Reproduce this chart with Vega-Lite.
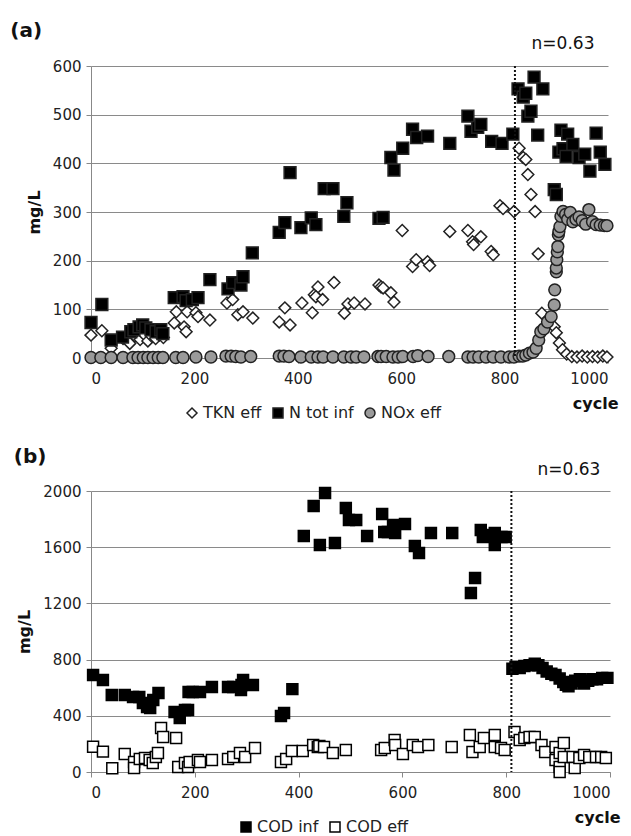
{
  "$schema": "https://vega.github.io/schema/vega-lite/v6.json",
  "background": "white",
  "padding": {"left": 10, "top": 21, "right": 5, "bottom": 5},
  "spacing": 25,
  "resolve": {
    "scale": {"shape": "independent", "fill": "independent", "stroke": "independent"},
    "legend": {"shape": "independent", "fill": "independent", "stroke": "independent"}
  },
  "config": {
    "font": "DejaVu Sans",
    "view": {"stroke": null},
    "axis": {"labelFont": "DejaVu Sans", "labelFontSize": 15, "labelColor": "#222", "domainColor": "#888", "tickColor": "#888", "gridColor": "#8a8a8a", "titleFont": "DejaVu Sans", "titleFontSize": 16, "titleFontWeight": "bold", "titleColor": "#111", "tickSize": 5},
    "legend": {"labelFont": "DejaVu Sans", "labelFontSize": 16, "labelColor": "#222"},
    "title": {"font": "DejaVu Sans", "fontSize": 20, "fontWeight": "bold", "color": "#111"}
  },
  "datasets": {
    "a": [
      {"c":0,"v":47,"s":"TKN eff"},{"c":21,"v":56,"s":"TKN eff"},{"c":39,"v":20,"s":"TKN eff"},{"c":62,"v":40,"s":"TKN eff"},{"c":75,"v":30,"s":"TKN eff"},{"c":85,"v":45,"s":"TKN eff"},{"c":95,"v":38,"s":"TKN eff"},{"c":103,"v":48,"s":"TKN eff"},{"c":110,"v":35,"s":"TKN eff"},{"c":118,"v":44,"s":"TKN eff"},{"c":125,"v":40,"s":"TKN eff"},{"c":132,"v":47,"s":"TKN eff"},{"c":140,"v":42,"s":"TKN eff"},{"c":161,"v":72,"s":"TKN eff"},{"c":165,"v":95,"s":"TKN eff"},{"c":180,"v":64,"s":"TKN eff"},{"c":184,"v":54,"s":"TKN eff"},{"c":186,"v":95,"s":"TKN eff"},{"c":203,"v":93,"s":"TKN eff"},{"c":207,"v":85,"s":"TKN eff"},{"c":230,"v":78,"s":"TKN eff"},{"c":263,"v":113,"s":"TKN eff"},{"c":274,"v":120,"s":"TKN eff"},{"c":284,"v":89,"s":"TKN eff"},{"c":294,"v":95,"s":"TKN eff"},{"c":313,"v":82,"s":"TKN eff"},{"c":364,"v":74,"s":"TKN eff"},{"c":375,"v":103,"s":"TKN eff"},{"c":385,"v":68,"s":"TKN eff"},{"c":408,"v":113,"s":"TKN eff"},{"c":428,"v":93,"s":"TKN eff"},{"c":432,"v":130,"s":"TKN eff"},{"c":439,"v":146,"s":"TKN eff"},{"c":435,"v":126,"s":"TKN eff"},{"c":448,"v":120,"s":"TKN eff"},{"c":470,"v":155,"s":"TKN eff"},{"c":490,"v":92,"s":"TKN eff"},{"c":497,"v":111,"s":"TKN eff"},{"c":509,"v":113,"s":"TKN eff"},{"c":530,"v":111,"s":"TKN eff"},{"c":557,"v":150,"s":"TKN eff"},{"c":561,"v":146,"s":"TKN eff"},{"c":565,"v":144,"s":"TKN eff"},{"c":580,"v":134,"s":"TKN eff"},{"c":586,"v":115,"s":"TKN eff"},{"c":602,"v":262,"s":"TKN eff"},{"c":622,"v":188,"s":"TKN eff"},{"c":629,"v":202,"s":"TKN eff"},{"c":651,"v":198,"s":"TKN eff"},{"c":655,"v":190,"s":"TKN eff"},{"c":694,"v":260,"s":"TKN eff"},{"c":729,"v":262,"s":"TKN eff"},{"c":738,"v":239,"s":"TKN eff"},{"c":740,"v":233,"s":"TKN eff"},{"c":754,"v":249,"s":"TKN eff"},{"c":774,"v":219,"s":"TKN eff"},{"c":778,"v":212,"s":"TKN eff"},{"c":791,"v":313,"s":"TKN eff"},{"c":797,"v":307,"s":"TKN eff"},{"c":818,"v":301,"s":"TKN eff"},{"c":828,"v":431,"s":"TKN eff"},{"c":836,"v":412,"s":"TKN eff"},{"c":841,"v":408,"s":"TKN eff"},{"c":845,"v":377,"s":"TKN eff"},{"c":851,"v":336,"s":"TKN eff"},{"c":859,"v":301,"s":"TKN eff"},{"c":865,"v":214,"s":"TKN eff"},{"c":872,"v":92,"s":"TKN eff"},{"c":885,"v":75,"s":"TKN eff"},{"c":896,"v":64,"s":"TKN eff"},{"c":900,"v":52,"s":"TKN eff"},{"c":906,"v":31,"s":"TKN eff"},{"c":912,"v":17,"s":"TKN eff"},{"c":920,"v":8,"s":"TKN eff"},{"c":930,"v":3,"s":"TKN eff"},{"c":940,"v":2,"s":"TKN eff"},{"c":950,"v":4,"s":"TKN eff"},{"c":960,"v":2,"s":"TKN eff"},{"c":970,"v":3,"s":"TKN eff"},{"c":980,"v":2,"s":"TKN eff"},{"c":990,"v":4,"s":"TKN eff"},{"c":998,"v":2,"s":"TKN eff"},
      {"c":0,"v":73,"s":"N tot inf"},{"c":21,"v":110,"s":"N tot inf"},{"c":39,"v":37,"s":"N tot inf"},{"c":61,"v":43,"s":"N tot inf"},{"c":77,"v":54,"s":"N tot inf"},{"c":83,"v":58,"s":"N tot inf"},{"c":93,"v":64,"s":"N tot inf"},{"c":100,"v":68,"s":"N tot inf"},{"c":106,"v":62,"s":"N tot inf"},{"c":116,"v":58,"s":"N tot inf"},{"c":126,"v":54,"s":"N tot inf"},{"c":135,"v":58,"s":"N tot inf"},{"c":139,"v":50,"s":"N tot inf"},{"c":161,"v":124,"s":"N tot inf"},{"c":178,"v":126,"s":"N tot inf"},{"c":184,"v":118,"s":"N tot inf"},{"c":196,"v":120,"s":"N tot inf"},{"c":207,"v":124,"s":"N tot inf"},{"c":230,"v":161,"s":"N tot inf"},{"c":265,"v":142,"s":"N tot inf"},{"c":274,"v":155,"s":"N tot inf"},{"c":290,"v":150,"s":"N tot inf"},{"c":294,"v":167,"s":"N tot inf"},{"c":312,"v":216,"s":"N tot inf"},{"c":364,"v":258,"s":"N tot inf"},{"c":375,"v":278,"s":"N tot inf"},{"c":385,"v":381,"s":"N tot inf"},{"c":406,"v":268,"s":"N tot inf"},{"c":426,"v":288,"s":"N tot inf"},{"c":435,"v":274,"s":"N tot inf"},{"c":451,"v":348,"s":"N tot inf"},{"c":468,"v":348,"s":"N tot inf"},{"c":489,"v":291,"s":"N tot inf"},{"c":495,"v":319,"s":"N tot inf"},{"c":557,"v":287,"s":"N tot inf"},{"c":565,"v":289,"s":"N tot inf"},{"c":580,"v":412,"s":"N tot inf"},{"c":586,"v":386,"s":"N tot inf"},{"c":603,"v":431,"s":"N tot inf"},{"c":622,"v":470,"s":"N tot inf"},{"c":630,"v":453,"s":"N tot inf"},{"c":651,"v":456,"s":"N tot inf"},{"c":694,"v":441,"s":"N tot inf"},{"c":729,"v":497,"s":"N tot inf"},{"c":735,"v":466,"s":"N tot inf"},{"c":748,"v":474,"s":"N tot inf"},{"c":754,"v":480,"s":"N tot inf"},{"c":775,"v":445,"s":"N tot inf"},{"c":795,"v":441,"s":"N tot inf"},{"c":816,"v":460,"s":"N tot inf"},{"c":826,"v":553,"s":"N tot inf"},{"c":836,"v":536,"s":"N tot inf"},{"c":841,"v":544,"s":"N tot inf"},{"c":845,"v":497,"s":"N tot inf"},{"c":851,"v":507,"s":"N tot inf"},{"c":857,"v":577,"s":"N tot inf"},{"c":864,"v":458,"s":"N tot inf"},{"c":874,"v":553,"s":"N tot inf"},{"c":896,"v":346,"s":"N tot inf"},{"c":900,"v":336,"s":"N tot inf"},{"c":905,"v":423,"s":"N tot inf"},{"c":909,"v":468,"s":"N tot inf"},{"c":913,"v":430,"s":"N tot inf"},{"c":919,"v":414,"s":"N tot inf"},{"c":922,"v":460,"s":"N tot inf"},{"c":932,"v":439,"s":"N tot inf"},{"c":944,"v":412,"s":"N tot inf"},{"c":955,"v":419,"s":"N tot inf"},{"c":965,"v":384,"s":"N tot inf"},{"c":977,"v":462,"s":"N tot inf"},{"c":985,"v":423,"s":"N tot inf"},{"c":994,"v":398,"s":"N tot inf"},
      {"c":0,"v":1,"s":"NOx eff"},{"c":19,"v":1,"s":"NOx eff"},{"c":39,"v":1,"s":"NOx eff"},{"c":62,"v":1,"s":"NOx eff"},{"c":81,"v":1,"s":"NOx eff"},{"c":91,"v":1,"s":"NOx eff"},{"c":101,"v":1,"s":"NOx eff"},{"c":110,"v":1,"s":"NOx eff"},{"c":120,"v":1,"s":"NOx eff"},{"c":130,"v":1,"s":"NOx eff"},{"c":139,"v":1,"s":"NOx eff"},{"c":164,"v":1,"s":"NOx eff"},{"c":178,"v":1,"s":"NOx eff"},{"c":203,"v":2,"s":"NOx eff"},{"c":232,"v":2,"s":"NOx eff"},{"c":261,"v":4,"s":"NOx eff"},{"c":271,"v":4,"s":"NOx eff"},{"c":280,"v":3,"s":"NOx eff"},{"c":290,"v":2,"s":"NOx eff"},{"c":309,"v":3,"s":"NOx eff"},{"c":364,"v":4,"s":"NOx eff"},{"c":373,"v":4,"s":"NOx eff"},{"c":383,"v":3,"s":"NOx eff"},{"c":406,"v":2,"s":"NOx eff"},{"c":426,"v":2,"s":"NOx eff"},{"c":439,"v":2,"s":"NOx eff"},{"c":449,"v":2,"s":"NOx eff"},{"c":468,"v":2,"s":"NOx eff"},{"c":489,"v":2,"s":"NOx eff"},{"c":503,"v":2,"s":"NOx eff"},{"c":513,"v":2,"s":"NOx eff"},{"c":528,"v":2,"s":"NOx eff"},{"c":555,"v":3,"s":"NOx eff"},{"c":561,"v":3,"s":"NOx eff"},{"c":571,"v":3,"s":"NOx eff"},{"c":584,"v":2,"s":"NOx eff"},{"c":594,"v":2,"s":"NOx eff"},{"c":603,"v":3,"s":"NOx eff"},{"c":623,"v":3,"s":"NOx eff"},{"c":632,"v":5,"s":"NOx eff"},{"c":652,"v":3,"s":"NOx eff"},{"c":692,"v":3,"s":"NOx eff"},{"c":729,"v":2,"s":"NOx eff"},{"c":739,"v":2,"s":"NOx eff"},{"c":750,"v":2,"s":"NOx eff"},{"c":764,"v":2,"s":"NOx eff"},{"c":778,"v":2,"s":"NOx eff"},{"c":793,"v":2,"s":"NOx eff"},{"c":809,"v":2,"s":"NOx eff"},{"c":818,"v":2,"s":"NOx eff"},{"c":828,"v":4,"s":"NOx eff"},{"c":835,"v":4,"s":"NOx eff"},{"c":841,"v":6,"s":"NOx eff"},{"c":848,"v":10,"s":"NOx eff"},{"c":855,"v":12,"s":"NOx eff"},{"c":861,"v":20,"s":"NOx eff"},{"c":866,"v":37,"s":"NOx eff"},{"c":870,"v":54,"s":"NOx eff"},{"c":876,"v":60,"s":"NOx eff"},{"c":883,"v":74,"s":"NOx eff"},{"c":890,"v":85,"s":"NOx eff"},{"c":896,"v":109,"s":"NOx eff"},{"c":897,"v":140,"s":"NOx eff"},{"c":900,"v":177,"s":"NOx eff"},{"c":900,"v":185,"s":"NOx eff"},{"c":901,"v":202,"s":"NOx eff"},{"c":902,"v":218,"s":"NOx eff"},{"c":903,"v":229,"s":"NOx eff"},{"c":904,"v":253,"s":"NOx eff"},{"c":905,"v":260,"s":"NOx eff"},{"c":907,"v":270,"s":"NOx eff"},{"c":909,"v":291,"s":"NOx eff"},{"c":913,"v":301,"s":"NOx eff"},{"c":918,"v":295,"s":"NOx eff"},{"c":922,"v":285,"s":"NOx eff"},{"c":927,"v":299,"s":"NOx eff"},{"c":932,"v":280,"s":"NOx eff"},{"c":938,"v":285,"s":"NOx eff"},{"c":944,"v":290,"s":"NOx eff"},{"c":950,"v":282,"s":"NOx eff"},{"c":957,"v":275,"s":"NOx eff"},{"c":963,"v":305,"s":"NOx eff"},{"c":970,"v":280,"s":"NOx eff"},{"c":977,"v":274,"s":"NOx eff"},{"c":985,"v":273,"s":"NOx eff"},{"c":993,"v":272,"s":"NOx eff"},{"c":998,"v":272,"s":"NOx eff"}
    ],
    "b": [
      {"c":4,"v":690,"s":"COD inf"},{"c":23,"v":655,"s":"COD inf"},{"c":40,"v":548,"s":"COD inf"},{"c":65,"v":548,"s":"COD inf"},{"c":81,"v":534,"s":"COD inf"},{"c":93,"v":534,"s":"COD inf"},{"c":100,"v":491,"s":"COD inf"},{"c":108,"v":462,"s":"COD inf"},{"c":114,"v":455,"s":"COD inf"},{"c":120,"v":512,"s":"COD inf"},{"c":130,"v":562,"s":"COD inf"},{"c":161,"v":427,"s":"COD inf"},{"c":171,"v":384,"s":"COD inf"},{"c":181,"v":441,"s":"COD inf"},{"c":187,"v":441,"s":"COD inf"},{"c":188,"v":569,"s":"COD inf"},{"c":196,"v":569,"s":"COD inf"},{"c":210,"v":569,"s":"COD inf"},{"c":233,"v":605,"s":"COD inf"},{"c":264,"v":605,"s":"COD inf"},{"c":274,"v":605,"s":"COD inf"},{"c":289,"v":584,"s":"COD inf"},{"c":290,"v":619,"s":"COD inf"},{"c":293,"v":655,"s":"COD inf"},{"c":312,"v":619,"s":"COD inf"},{"c":366,"v":398,"s":"COD inf"},{"c":372,"v":420,"s":"COD inf"},{"c":388,"v":590,"s":"COD inf"},{"c":410,"v":1680,"s":"COD inf"},{"c":429,"v":1893,"s":"COD inf"},{"c":451,"v":1986,"s":"COD inf"},{"c":441,"v":1616,"s":"COD inf"},{"c":470,"v":1630,"s":"COD inf"},{"c":491,"v":1879,"s":"COD inf"},{"c":497,"v":1794,"s":"COD inf"},{"c":511,"v":1794,"s":"COD inf"},{"c":532,"v":1680,"s":"COD inf"},{"c":561,"v":1836,"s":"COD inf"},{"c":565,"v":1708,"s":"COD inf"},{"c":572,"v":1708,"s":"COD inf"},{"c":582,"v":1758,"s":"COD inf"},{"c":586,"v":1701,"s":"COD inf"},{"c":605,"v":1765,"s":"COD inf"},{"c":624,"v":1608,"s":"COD inf"},{"c":632,"v":1559,"s":"COD inf"},{"c":655,"v":1701,"s":"COD inf"},{"c":696,"v":1701,"s":"COD inf"},{"c":732,"v":1274,"s":"COD inf"},{"c":740,"v":1381,"s":"COD inf"},{"c":751,"v":1722,"s":"COD inf"},{"c":755,"v":1673,"s":"COD inf"},{"c":769,"v":1687,"s":"COD inf"},{"c":778,"v":1701,"s":"COD inf"},{"c":778,"v":1616,"s":"COD inf"},{"c":791,"v":1673,"s":"COD inf"},{"c":799,"v":1673,"s":"COD inf"},{"c":812,"v":735,"s":"COD inf"},{"c":818,"v":745,"s":"COD inf"},{"c":826,"v":740,"s":"COD inf"},{"c":835,"v":755,"s":"COD inf"},{"c":845,"v":760,"s":"COD inf"},{"c":855,"v":770,"s":"COD inf"},{"c":862,"v":760,"s":"COD inf"},{"c":870,"v":740,"s":"COD inf"},{"c":878,"v":715,"s":"COD inf"},{"c":887,"v":700,"s":"COD inf"},{"c":895,"v":690,"s":"COD inf"},{"c":903,"v":665,"s":"COD inf"},{"c":910,"v":640,"s":"COD inf"},{"c":915,"v":620,"s":"COD inf"},{"c":920,"v":610,"s":"COD inf"},{"c":926,"v":630,"s":"COD inf"},{"c":933,"v":650,"s":"COD inf"},{"c":942,"v":660,"s":"COD inf"},{"c":950,"v":630,"s":"COD inf"},{"c":958,"v":650,"s":"COD inf"},{"c":966,"v":660,"s":"COD inf"},{"c":975,"v":660,"s":"COD inf"},{"c":985,"v":670,"s":"COD inf"},{"c":995,"v":670,"s":"COD inf"},
      {"c":4,"v":180,"s":"COD eff"},{"c":23,"v":145,"s":"COD eff"},{"c":41,"v":26,"s":"COD eff"},{"c":65,"v":128,"s":"COD eff"},{"c":83,"v":71,"s":"COD eff"},{"c":83,"v":28,"s":"COD eff"},{"c":94,"v":92,"s":"COD eff"},{"c":104,"v":100,"s":"COD eff"},{"c":113,"v":85,"s":"COD eff"},{"c":119,"v":64,"s":"COD eff"},{"c":125,"v":107,"s":"COD eff"},{"c":129,"v":135,"s":"COD eff"},{"c":135,"v":313,"s":"COD eff"},{"c":139,"v":249,"s":"COD eff"},{"c":164,"v":242,"s":"COD eff"},{"c":168,"v":36,"s":"COD eff"},{"c":181,"v":64,"s":"COD eff"},{"c":187,"v":36,"s":"COD eff"},{"c":190,"v":71,"s":"COD eff"},{"c":206,"v":85,"s":"COD eff"},{"c":210,"v":71,"s":"COD eff"},{"c":233,"v":85,"s":"COD eff"},{"c":264,"v":92,"s":"COD eff"},{"c":274,"v":107,"s":"COD eff"},{"c":287,"v":135,"s":"COD eff"},{"c":297,"v":107,"s":"COD eff"},{"c":316,"v":171,"s":"COD eff"},{"c":366,"v":71,"s":"COD eff"},{"c":376,"v":92,"s":"COD eff"},{"c":387,"v":150,"s":"COD eff"},{"c":408,"v":150,"s":"COD eff"},{"c":428,"v":192,"s":"COD eff"},{"c":437,"v":178,"s":"COD eff"},{"c":440,"v":185,"s":"COD eff"},{"c":449,"v":178,"s":"COD eff"},{"c":466,"v":135,"s":"COD eff"},{"c":491,"v":157,"s":"COD eff"},{"c":559,"v":157,"s":"COD eff"},{"c":566,"v":171,"s":"COD eff"},{"c":585,"v":228,"s":"COD eff"},{"c":586,"v":192,"s":"COD eff"},{"c":601,"v":128,"s":"COD eff"},{"c":620,"v":192,"s":"COD eff"},{"c":630,"v":178,"s":"COD eff"},{"c":650,"v":192,"s":"COD eff"},{"c":695,"v":178,"s":"COD eff"},{"c":730,"v":263,"s":"COD eff"},{"c":735,"v":142,"s":"COD eff"},{"c":749,"v":178,"s":"COD eff"},{"c":757,"v":242,"s":"COD eff"},{"c":778,"v":263,"s":"COD eff"},{"c":778,"v":178,"s":"COD eff"},{"c":790,"v":171,"s":"COD eff"},{"c":797,"v":157,"s":"COD eff"},{"c":816,"v":285,"s":"COD eff"},{"c":826,"v":228,"s":"COD eff"},{"c":835,"v":242,"s":"COD eff"},{"c":845,"v":249,"s":"COD eff"},{"c":855,"v":249,"s":"COD eff"},{"c":868,"v":192,"s":"COD eff"},{"c":875,"v":142,"s":"COD eff"},{"c":895,"v":178,"s":"COD eff"},{"c":895,"v":85,"s":"COD eff"},{"c":903,"v":135,"s":"COD eff"},{"c":903,"v":36,"s":"COD eff"},{"c":903,"v":0,"s":"COD eff"},{"c":911,"v":206,"s":"COD eff"},{"c":911,"v":107,"s":"COD eff"},{"c":928,"v":107,"s":"COD eff"},{"c":932,"v":28,"s":"COD eff"},{"c":941,"v":100,"s":"COD eff"},{"c":950,"v":121,"s":"COD eff"},{"c":960,"v":107,"s":"COD eff"},{"c":973,"v":107,"s":"COD eff"},{"c":983,"v":107,"s":"COD eff"},{"c":992,"v":100,"s":"COD eff"}
    ]
  },
  "vconcat": [
    {
      "width": 517,
      "height": 292,
      "title": {"text": "(a)", "anchor": "start", "frame": "bounds", "offset": 4, "dx": -16, "dy": 10},
      "layer": [
        {
          "data": {"name": "a"},
          "mark": {"type": "point", "filled": true, "opacity": 1, "strokeWidth": 1.5, "size": 140},
          "encoding": {
            "x": {"field": "c", "type": "quantitative", "title": "cycle", "scale": {"domain": [0, 1000], "nice": false},
                  "axis": {"grid": false, "values": [0, 200, 400, 600, 800, 1000], "format": "d", "titleAnchor": "end", "titleAlign": "right", "titleX": 527, "titlePadding": 9, "labelPadding": 8}},
            "y": {"field": "v", "type": "quantitative", "title": "mg/L", "scale": {"domain": [0, 600], "nice": false},
                  "axis": {"values": [0, 100, 200, 300, 400, 500, 600], "titlePadding": 10, "labelPadding": 5, "format": "d"}},
            "shape": {"field": "s", "type": "nominal", "title": null, "scale": {"domain": ["TKN eff", "N tot inf", "NOx eff"], "range": ["diamond", "square", "circle"]},
                      "legend": {"orient": "none", "direction": "horizontal", "legendX": 93, "legendY": 339, "symbolSize": 100, "columnPadding": 8, "labelOffset": 3,
                                 "encode": {"symbols": {"update": {"stroke": {"value": "black"}, "strokeWidth": {"value": 1.5}}}}}},
            "fill": {"field": "s", "type": "nominal", "title": null, "scale": {"domain": ["TKN eff", "N tot inf", "NOx eff"], "range": ["white", "black", "#9a9a9a"]},
                     "legend": {"orient": "none", "direction": "horizontal", "legendX": 93, "legendY": 339, "symbolSize": 100, "columnPadding": 8, "labelOffset": 3,
                                 "encode": {"symbols": {"update": {"stroke": {"value": "black"}, "strokeWidth": {"value": 1.5}}}}}},
            "stroke": {"value": "#222222"}
          }
        },
        {
          "data": {"values": [{"c": 820}]},
          "mark": {"type": "rule", "strokeDash": [2, 2], "strokeWidth": 2, "color": "#111"},
          "encoding": {"x": {"field": "c", "type": "quantitative", "title": "cycle"}}
        },
        {
          "data": {"values": [{"c": 913, "v": 645, "t": "n=0.63"}]},
          "mark": {"type": "text", "fontSize": 17, "font": "DejaVu Sans", "color": "#111"},
          "encoding": {"x": {"field": "c", "type": "quantitative", "title": "cycle"}, "y": {"field": "v", "type": "quantitative", "title": "mg/L"}, "text": {"field": "t"}}
        }
      ]
    },
    {
      "width": 519,
      "height": 281,
      "title": {"text": "(b)", "anchor": "start", "frame": "bounds", "offset": 4, "dx": -3, "dy": 10},
      "layer": [
        {
          "data": {"name": "b"},
          "mark": {"type": "point", "filled": true, "opacity": 1, "strokeWidth": 1.5, "size": 120},
          "encoding": {
            "x": {"field": "c", "type": "quantitative", "title": "cycle", "scale": {"domain": [0, 1000], "nice": false},
                  "axis": {"grid": false, "values": [0, 200, 400, 600, 800, 1000], "format": "d", "titleAnchor": "end", "titleAlign": "right", "titleX": 529, "titlePadding": 9, "labelPadding": 8}},
            "y": {"field": "v", "type": "quantitative", "title": "mg/L", "scale": {"domain": [0, 2000], "nice": false},
                  "axis": {"values": [0, 400, 800, 1200, 1600, 2000], "titlePadding": 10, "labelPadding": 5, "format": "d"}},
            "shape": {"field": "s", "type": "nominal", "title": null, "scale": {"domain": ["COD inf", "COD eff"], "range": ["square", "square"]},
                      "legend": {"orient": "none", "direction": "horizontal", "legendX": 147, "legendY": 328, "symbolSize": 100, "columnPadding": 8, "labelOffset": 3,
                                 "encode": {"symbols": {"update": {"stroke": {"value": "black"}, "strokeWidth": {"value": 1.5}}}}}},
            "fill": {"field": "s", "type": "nominal", "title": null, "scale": {"domain": ["COD inf", "COD eff"], "range": ["black", "white"]},
                     "legend": {"orient": "none", "direction": "horizontal", "legendX": 147, "legendY": 328, "symbolSize": 100, "columnPadding": 8, "labelOffset": 3,
                                 "encode": {"symbols": {"update": {"stroke": {"value": "black"}, "strokeWidth": {"value": 1.5}}}}}},
            "stroke": {"value": "black"}
          }
        },
        {
          "data": {"values": [{"c": 810}]},
          "mark": {"type": "rule", "strokeDash": [2, 2], "strokeWidth": 2, "color": "#111"},
          "encoding": {"x": {"field": "c", "type": "quantitative", "title": "cycle"}}
        },
        {
          "data": {"values": [{"c": 921, "v": 2150, "t": "n=0.63"}]},
          "mark": {"type": "text", "fontSize": 17, "font": "DejaVu Sans", "color": "#111"},
          "encoding": {"x": {"field": "c", "type": "quantitative", "title": "cycle"}, "y": {"field": "v", "type": "quantitative", "title": "mg/L"}, "text": {"field": "t"}}
        }
      ]
    }
  ]
}
